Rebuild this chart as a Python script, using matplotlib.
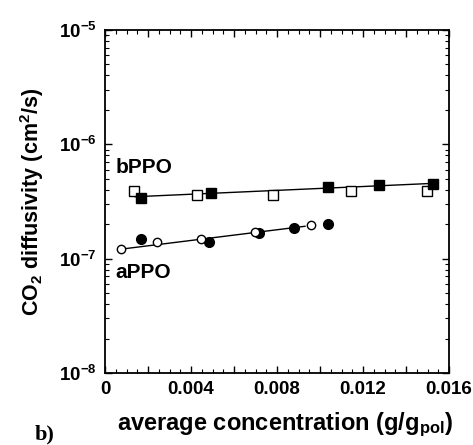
import matplotlib
matplotlib.use("Agg")
import matplotlib.pyplot as plt
from matplotlib.ticker import MultipleLocator, FuncFormatter, LogLocator, NullFormatter
import math

# bPPO data
bppo_filled_x = [0.00167, 0.00493, 0.01037, 0.01274, 0.01526]
bppo_filled_y = [3.41e-7, 3.77e-7, 4.20e-7, 4.44e-7, 4.50e-7]
bppo_open_x = [0.00135, 0.00429, 0.00783, 0.01143, 0.01499]
bppo_open_y = [3.90e-7, 3.60e-7, 3.60e-7, 3.88e-7, 3.88e-7]
bppo_line_x = [0.0014, 0.0153]
bppo_line_y = [3.48e-7, 4.56e-7]

# aPPO data
appo_filled_x = [0.00167, 0.00484, 0.00716, 0.00880, 0.01036]
appo_filled_y = [1.48e-7, 1.41e-7, 1.69e-7, 1.85e-7, 2.00e-7]
appo_open_x = [0.00073, 0.00243, 0.00447, 0.00698, 0.00958]
appo_open_y = [1.21e-7, 1.39e-7, 1.48e-7, 1.72e-7, 1.98e-7]
appo_line_x = [0.00073, 0.0093]
appo_line_y = [1.21e-7, 1.92e-7]

plt.rcParams['font.family'] = ['Liberation Sans', 'DejaVu Sans']
plt.rcParams['font.weight'] = 'bold'
plt.rcParams['mathtext.fontset'] = 'custom'
plt.rcParams['mathtext.rm'] = 'Liberation Sans:bold'
plt.rcParams['mathtext.bf'] = 'Liberation Sans:bold'
plt.rcParams['mathtext.it'] = 'Liberation Sans:bold'
plt.rcParams['mathtext.default'] = 'bf'

fig = plt.figure(figsize=(4.73, 4.45), dpi=100)
ax = fig.add_axes([105/473, 1-373/445, (449-105)/473, (373-30)/445])

ax.plot(bppo_line_x, bppo_line_y, color='black', lw=1.0, zorder=2)
ax.plot(appo_line_x, appo_line_y, color='black', lw=1.0, zorder=2)
ax.plot(bppo_open_x, bppo_open_y, 's', mfc='white', mec='black', mew=1.0, ms=7, ls='none', zorder=3)
ax.plot(bppo_filled_x, bppo_filled_y, 's', mfc='black', mec='black', ms=7, ls='none', zorder=4)
ax.plot(appo_filled_x, appo_filled_y, 'o', mfc='black', mec='black', ms=7, ls='none', zorder=4)
ax.plot(appo_open_x, appo_open_y, 'o', mfc='white', mec='black', mew=1.0, ms=6, ls='none', zorder=5)

ax.set_yscale('log')
ax.set_xlim(0, 0.016)
ax.set_ylim(1e-8, 1e-5)

ax.xaxis.set_major_locator(MultipleLocator(0.002))
ax.xaxis.set_minor_locator(MultipleLocator(0.0005))
def xfmt(v, pos):
    k = round(v / 0.002)
    if k % 2 != 0:
        return ''
    if k == 0:
        return '0'
    return f'{v:.3f}'
ax.xaxis.set_major_formatter(FuncFormatter(xfmt))

def yfmt(v, pos):
    e = int(round(math.log10(v)))
    return r'$\mathbf{10^{%d}}$' % e
ax.yaxis.set_major_locator(LogLocator(base=10, numticks=10))
ax.yaxis.set_major_formatter(FuncFormatter(yfmt))
ax.yaxis.set_minor_locator(LogLocator(base=10, subs=range(2, 10), numticks=20))
ax.yaxis.set_minor_formatter(NullFormatter())

ax.tick_params(which='both', direction='in', top=True, right=True)
ax.tick_params(which='major', length=5, width=1.0, labelsize=13.5, pad=6)
ax.tick_params(which='minor', length=3, width=0.8)
for lab in ax.get_xticklabels() + ax.get_yticklabels():
    lab.set_fontweight('bold')
for s in ax.spines.values():
    s.set_linewidth(1.3)

ax.set_xlabel(r'average concentration (g/g$_{\mathbf{pol}}$)', fontsize=17, fontweight='bold', labelpad=9)
ax.xaxis.label.set_x(0.523)
ax.set_ylabel(r'CO$_{\mathbf{2}}$ diffusivity (cm$^{\mathbf{2}}$/s)', fontsize=15.5, fontweight='bold', labelpad=9)

ax.text(0.0005, 6.3e-7, 'bPPO', fontsize=15, fontweight='bold', ha='left', va='center')
ax.text(0.0005, 7.6e-8, 'aPPO', fontsize=15, fontweight='bold', ha='left', va='center')

fig.text(35/473, 1-434/445, 'b)', fontsize=16, fontweight='bold', family='Liberation Serif', ha='left', va='center')

fig.savefig('out.png', dpi=100)
